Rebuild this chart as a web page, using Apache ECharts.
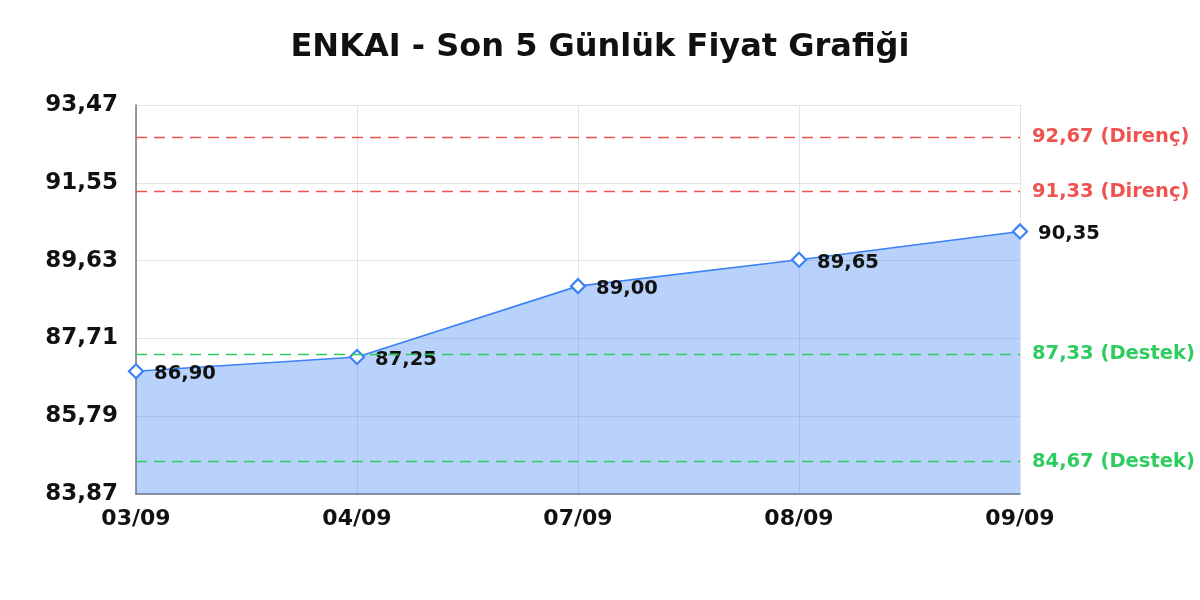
<!DOCTYPE html>
<html>
<head>
<meta charset="utf-8">
<script src="https://cdn.jsdelivr.net/npm/echarts@6/dist/echarts.min.js"></script>
<style>
  html, body { margin: 0; padding: 0; background: #fff; }
  #chart { width: 1200px; height: 600px; }
</style>
</head>
<body>
<div id="chart"></div>
<script>
// veriler
const dates = ['03/09', '04/09', '07/09', '08/09', '09/09']
const prices = [86.90, 87.25, 89.00, 89.65, 90.35]
const resistance = [92.67, 91.33]
const support = [87.33, 84.67]
const yMin = 83.87
const yMax = 93.47
const yStep = 1.92

const fmt = (v) => Number(v).toFixed(2).replace('.', ',')
const FONT = '"DejaVu Sans", Verdana, sans-serif'

const levelLine = (value, color, tag) => ({
  yAxis: value,
  lineStyle: { color: color, type: [11, 7], width: 1.4 },
  label: {
    show: true,
    position: 'end',
    distance: 12,
    formatter: fmt(value) + ' (' + tag + ')',
    color: color,
    fontFamily: FONT,
    fontWeight: 'bold',
    fontSize: 19.5
  }
})

const chart = echarts.init(document.getElementById('chart'))
chart.setOption({
  backgroundColor: '#ffffff',
  animation: false,
  title: {
    text: 'ENKAI - Son 5 Günlük Fiyat Grafiği',
    left: 'center',
    top: 27,
    textStyle: { fontFamily: FONT, fontWeight: 'bold', fontSize: 32, color: '#111' }
  },
  grid: { left: 136, right: 180, top: 105, bottom: 106 },
  xAxis: {
    type: 'category',
    data: dates,
    boundaryGap: false,
    axisLine: { show: true, lineStyle: { color: '#777', width: 1.5 } },
    axisTick: { show: false },
    splitLine: { show: true, lineStyle: { color: '#e3e3e3' } },
    axisLabel: { margin: 14, fontFamily: FONT, fontWeight: 'bold', fontSize: 22, color: '#111' }
  },
  yAxis: {
    type: 'value',
    min: yMin,
    max: yMax,
    interval: yStep,
    axisLine: { show: true, lineStyle: { color: '#777', width: 1.5 } },
    axisTick: { show: false },
    splitLine: { show: true, lineStyle: { color: '#e3e3e3' } },
    axisLabel: {
      margin: 18,
      fontFamily: FONT,
      fontWeight: 'bold',
      fontSize: 23,
      color: '#111',
      formatter: fmt
    }
  },
  series: [{
    type: 'line',
    data: prices,
    symbol: 'diamond',
    symbolSize: 14,
    itemStyle: { color: '#ffffff', borderColor: '#3b82f6', borderWidth: 2.2 },
    lineStyle: { color: '#3b82f6', width: 1.6 },
    areaStyle: { color: 'rgb(59,130,246)', opacity: 0.36 },
    label: {
      show: true,
      position: 'right',
      distance: 10,
      offset: [0, 3],
      formatter: (p) => fmt(p.value),
      fontFamily: FONT,
      fontWeight: 'bold',
      fontSize: 19.5,
      color: '#111'
    },
    markLine: {
      silent: true,
      symbol: 'none',
      lineStyle: { type: [11, 7], width: 1.4 },
      data: [
        levelLine(resistance[0], '#ef5350', 'Direnç'),
        levelLine(resistance[1], '#ef5350', 'Direnç'),
        levelLine(support[0], '#2ecc5f', 'Destek'),
        levelLine(support[1], '#2ecc5f', 'Destek')
      ]
    }
  }]
})
</script>
</body>
</html>
